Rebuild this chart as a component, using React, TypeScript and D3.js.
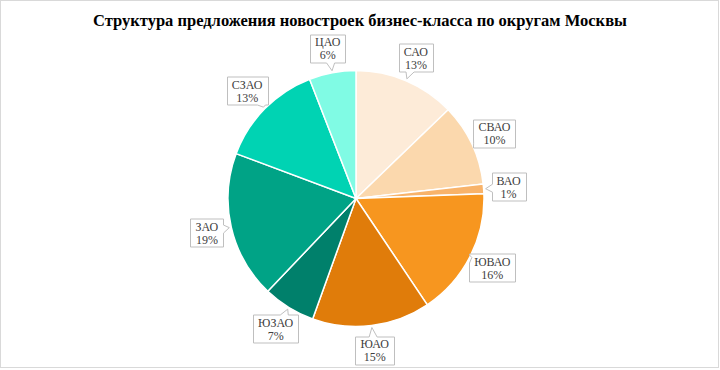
import React, { useEffect, useRef } from 'react';
import * as d3 from 'd3';

const title = 'Структура предложения новостроек бизнес-класса по округам Москвы';
const districts = ['САО', 'СВАО', 'ВАО', 'ЮВАО', 'ЮАО', 'ЮЗАО', 'ЗАО', 'СЗАО', 'ЦАО'];
const shares = [12.8, 10.4, 1.2, 16.2, 14.9, 6.6, 18.6, 13.4, 5.9];
const colors = ['#fdebd8', '#fbd8ad', '#f8b36a', '#f7961f', '#e07c0a', '#00806b', '#00a386', '#00d3b3', '#80fbe4'];

const W = 720;
const H = 370;
const FONT = "'Liberation Serif', 'Times New Roman', serif";

// outline of a callout box with a wedge pointing at (tx, ty)
function calloutPath(x0: number, y0: number, w: number, h: number, tx: number, ty: number) {
  const x1 = x0 + w, y1 = y0 + h;
  const cx = x0 + w / 2, cy = y0 + h / 2;
  const dx = tx - cx, dy = ty - cy;
  const half = 4;
  let side: string;
  let p: number;
  if (Math.abs(dx) * h > Math.abs(dy) * w) {
    side = dx > 0 ? 'right' : 'left';
    p = cy + (dy * (w / 2)) / Math.abs(dx);
    p = Math.max(y0 + half + 1, Math.min(y1 - half - 1, p));
  } else {
    side = dy > 0 ? 'bottom' : 'top';
    p = cx + (dx * (h / 2)) / Math.abs(dy);
    p = Math.max(x0 + half + 1, Math.min(x1 - half - 1, p));
  }
  const pts: [number, number][] = [[x0, y0]];
  if (side === 'top') pts.push([p - half, y0], [tx, ty], [p + half, y0]);
  pts.push([x1, y0]);
  if (side === 'right') pts.push([x1, p - half], [tx, ty], [x1, p + half]);
  pts.push([x1, y1]);
  if (side === 'bottom') pts.push([p + half, y1], [tx, ty], [p - half, y1]);
  pts.push([x0, y1]);
  if (side === 'left') pts.push([x0, p + half], [tx, ty], [x0, p - half]);
  return 'M' + pts.map(q => q.join(',')).join('L') + 'Z';
}

const App = () => {
  const ref = useRef<SVGSVGElement>(null);

  useEffect(() => {
    const svg = d3.select(ref.current);
    svg.selectAll('*').remove();

    svg.append('rect')
      .attr('x', 0.5).attr('y', 0.5)
      .attr('width', W - 2).attr('height', H - 3)
      .attr('fill', '#fff')
      .attr('stroke', '#d9d9d9');

    svg.append('text')
      .attr('x', 360).attr('y', 26)
      .attr('text-anchor', 'middle')
      .style('font-family', FONT)
      .style('font-weight', 'bold')
      .style('font-size', '16.5px')
      .attr('fill', '#000')
      .text(title);

    const cx = 356, cy = 198.5, r = 128;
    const data = districts.map((d, i) => ({ name: d, value: shares[i], color: colors[i] }));
    const pie = d3.pie<any>().value(d => d.value).sort(null);
    const arcs = pie(data);
    const arc = d3.arc<any>().innerRadius(0).outerRadius(r);

    const g = svg.append('g').attr('transform', `translate(${cx},${cy})`);
    g.selectAll('path.slice')
      .data(arcs)
      .enter()
      .append('path')
      .attr('class', 'slice')
      .attr('d', arc)
      .attr('fill', d => d.data.color)
      .attr('stroke', '#fff')
      .attr('stroke-width', 1.5);

    const labelArc = d3.arc<any>().innerRadius(153).outerRadius(153);
    const tipArc = d3.arc<any>().innerRadius(130).outerRadius(130);

    const labels = g.selectAll('g.lbl')
      .data(arcs)
      .enter()
      .append('g')
      .attr('class', 'lbl');

    labels.each(function (d) {
      const sel = d3.select(this);
      const [lx, ly] = labelArc.centroid(d);
      const [tx, ty] = tipArc.centroid(d);
      const pct = Math.round(d.data.value) + '%';
      const box = sel.append('path');
      const t1 = sel.append('text')
        .attr('x', lx).attr('y', ly - 2)
        .attr('text-anchor', 'middle')
        .style('font-family', FONT)
        .style('font-size', '12px')
        .attr('fill', '#404040')
        .text(d.data.name);
      const t2 = sel.append('text')
        .attr('x', lx).attr('y', ly + 11)
        .attr('text-anchor', 'middle')
        .style('font-family', FONT)
        .style('font-size', '12px')
        .attr('fill', '#404040')
        .text(pct);
      const tw = Math.max(
        (t1.node() as SVGTextElement).getComputedTextLength(),
        (t2.node() as SVGTextElement).getComputedTextLength()
      );
      const bw = Math.round(tw + 10);
      const bh = 28;
      box
        .attr('d', calloutPath(Math.round(lx - bw / 2) + 0.5, Math.round(ly - bh / 2) + 0.5, bw, bh, tx, ty))
        .attr('fill', '#fff')
        .attr('stroke', '#bfbfbf')
        .attr('stroke-width', 1);
    });
  }, []);

  return (
    <svg ref={ref} width={W} height={H} style={{ position: 'absolute', left: 0, top: 0 }} />
  );
};

export default App;
